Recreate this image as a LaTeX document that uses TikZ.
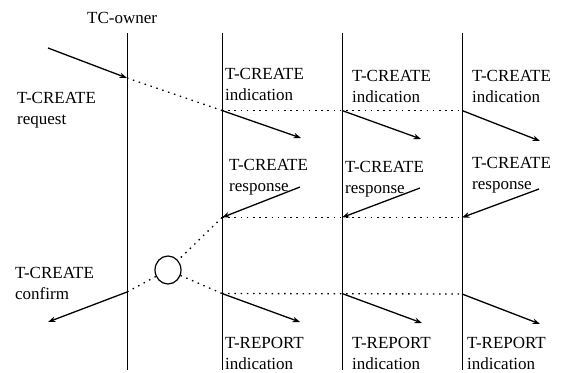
\documentclass[tikz,border=0pt]{standalone}
\usepackage{fontspec}
\setmainfont{Liberation Serif}
\usetikzlibrary{arrows.meta,shapes.geometric}
\newcommand{\twolines}[2]{\vtop{\hbox{#1}\hbox{#2}}}
\begin{document}
\begin{tikzpicture}[x=1pt,y=-1pt,
  life/.style={line width=0.7pt},
  msg/.style={line width=1.3pt,-{Stealth[length=7.5pt,width=5.5pt]}},
  dotline/.style={line width=1.3pt,dash pattern=on 1.5pt off 4.7pt},
  lbl/.style={anchor=base west,inner sep=0pt,font=\fontsize{17}{21}\selectfont}]
\useasboundingbox (0,0) rectangle (561,372);
% lifelines
\foreach \n/\x in {A/127,B/222,C/342,D/462}{
  \coordinate (\n top) at (\x,33);
  \coordinate (\n bot) at (\x,370);
  \draw[life] (\n top) -- (\n bot);
}
% coordinates
\coordinate (rq) at (48,48);
\coordinate (p1) at (127,78);
\coordinate (p2) at (222,110.5);
\coordinate (p3) at (342,110.5);
\coordinate (p4) at (462,110.5);
\coordinate (i1) at (301,138);
\coordinate (i2) at (421,139);
\coordinate (i3) at (540,141);
\coordinate (s1) at (300,187);
\coordinate (s2) at (420,188);
\coordinate (s3) at (539,189);
\coordinate (r1) at (222,217.5);
\coordinate (r2) at (342,217.5);
\coordinate (r3) at (462,217.5);
\coordinate (f1) at (127,292);
\coordinate (f2) at (48,322);
\coordinate (t1) at (222,293.5);
\coordinate (t2) at (342,293.5);
\coordinate (t3) at (462,294);
\coordinate (e1) at (300,322);
\coordinate (e2) at (422,323);
\coordinate (e3) at (540,324);
\node[ellipse,draw,line width=1.2pt,minimum width=26pt,minimum height=28pt,inner sep=0pt] (c) at (168,270) {};
% messages
\draw[msg] (rq) -- (p1);
\draw[dotline] (p1) -- (p2);
\draw[dotline] (p2) -- (p4);
\draw[msg] (p2) -- (i1);
\draw[msg] (p3) -- (i2);
\draw[msg] (p4) -- (i3);
\draw[msg] (s1) -- (r1);
\draw[msg] (s2) -- (r2);
\draw[msg] (s3) -- (r3);
\draw[dotline] (r1) -- (r3);
\draw[dotline] (r1) -- (c);
\draw[dotline] (c) -- (f1);
\draw[msg] (f1) -- (f2);
\draw[dotline] (c) -- (t1);
\draw[dotline] (t1) -- (t3);
\draw[msg] (t1) -- (e1);
\draw[msg] (t2) -- (e2);
\draw[msg] (t3) -- (e3);
% labels
\node[lbl] (owner) at (87,23) {TC-owner};
\node[lbl] (req) at (17,103) {\twolines{T-CREATE}{request}};
\node[lbl] (conf) at (15,278) {\twolines{T-CREATE}{confirm}};
\node[lbl] (ind1) at (225,79) {\twolines{T-CREATE}{indication}};
\node[lbl] (ind2) at (352,81) {\twolines{T-CREATE}{indication}};
\node[lbl] (ind3) at (472,81) {\twolines{T-CREATE}{indication}};
\node[lbl] (rsp1) at (229,170) {\twolines{T-CREATE}{response}};
\node[lbl] (rsp2) at (345,172) {\twolines{T-CREATE}{response}};
\node[lbl] (rsp3) at (472,168) {\twolines{T-CREATE}{response}};
\node[lbl] (rep1) at (225,348) {\twolines{T-REPORT}{indication}};
\node[lbl] (rep2) at (352,348) {\twolines{T-REPORT}{indication}};
\node[lbl] (rep3) at (467,348) {\twolines{T-REPORT}{indication}};
\end{tikzpicture}
\end{document}
